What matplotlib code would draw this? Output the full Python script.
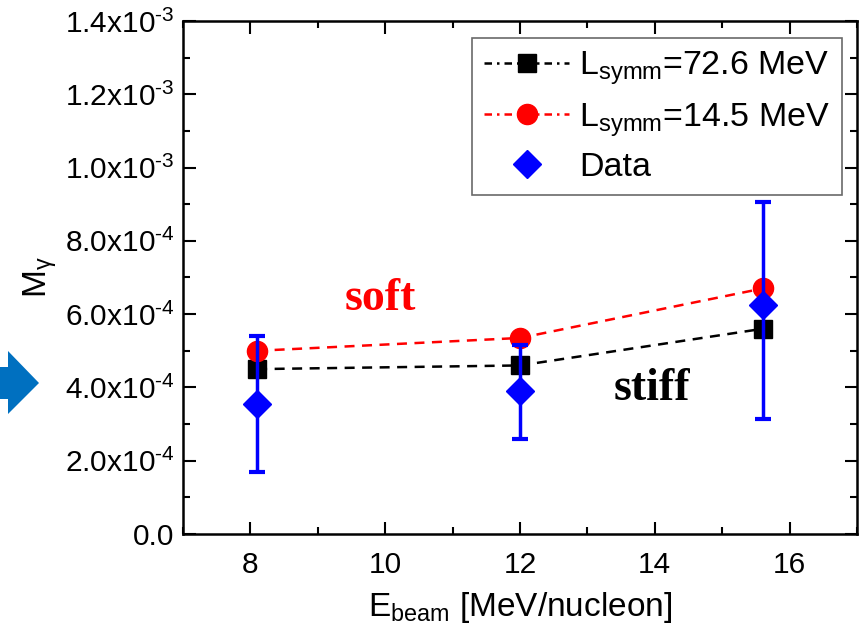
import matplotlib
matplotlib.use("Agg")
import matplotlib.pyplot as plt
from matplotlib.lines import Line2D
from matplotlib.patches import Polygon
from matplotlib.ticker import FixedLocator, FixedFormatter, MultipleLocator

plt.rcParams['font.family'] = ['Liberation Sans', 'DejaVu Sans']
plt.rcParams['mathtext.fontset'] = 'custom'
plt.rcParams['mathtext.rm'] = 'Liberation Sans'
plt.rcParams['mathtext.it'] = 'Liberation Sans:italic'

# data
e_beam = [8.1, 12.0, 15.6]
m_stiff = [4.5e-4, 4.6e-4, 5.6e-4]     # L_symm = 72.6 MeV
m_soft = [5.0e-4, 5.35e-4, 6.7e-4]     # L_symm = 14.5 MeV
m_data = [3.55e-4, 3.9e-4, 6.25e-4]
err_low = [1.85e-4, 1.3e-4, 3.1e-4]
err_high = [1.85e-4, 1.25e-4, 2.8e-4]

y_ticks = [0.0, 2e-4, 4e-4, 6e-4, 8e-4, 1.0e-3, 1.2e-3, 1.4e-3]
y_ticklabels = ['0.0', r'2.0x10$^{\text{-}4}$', r'4.0x10$^{\text{-}4}$',
                r'6.0x10$^{\text{-}4}$', r'8.0x10$^{\text{-}4}$',
                r'1.0x10$^{\text{-}3}$', r'1.2x10$^{\text{-}3}$',
                r'1.4x10$^{\text{-}3}$']
x_ticks = [8, 10, 12, 14, 16]

W, H = 861, 635
fig = plt.figure(figsize=(W / 100, H / 100), dpi=100)
ax = fig.add_axes([183 / W, (H - 534) / H, 674 / W, 513 / H])

ax.plot(e_beam, m_stiff, color='black', ls=(0, (4, 3)), lw=1.8, zorder=2)
ax.plot(e_beam, m_stiff, color='black', ls='none', marker='s', ms=13.5, zorder=3)
ax.plot(e_beam, m_soft, color='red', ls=(0, (4, 3)), lw=1.8, zorder=2)
ax.plot(e_beam, m_soft, color='red', ls='none', marker='o', ms=14.5, zorder=3)
ax.errorbar(e_beam, m_data, yerr=[err_low, err_high], fmt='D', color='blue',
            ms=14, elinewidth=2.5, capsize=6, capthick=3, zorder=4)

ax.set_xlim(7, 17)
ax.set_ylim(0, 1.4e-3)
ax.xaxis.set_major_locator(FixedLocator(x_ticks))
ax.xaxis.set_minor_locator(MultipleLocator(1))
ax.yaxis.set_major_locator(FixedLocator(y_ticks))
ax.yaxis.set_major_formatter(FixedFormatter(y_ticklabels))
ax.yaxis.set_minor_locator(MultipleLocator(1e-4))
ax.tick_params(which='both', direction='in', top=True, right=True,
               width=1.5, labelsize=21.5)
ax.tick_params(which='major', length=9)
ax.tick_params(which='minor', length=5)
ax.tick_params(axis='x', pad=12)
ax.tick_params(axis='y', pad=6)
for sp in ax.spines.values():
    sp.set_linewidth(1.8)

ax.set_xlabel(r'E$_{\mathrm{beam}}$ [MeV/nucleon]', fontsize=24, labelpad=8)
ax.set_ylabel(r'M$_{\mathrm{γ}}$', fontsize=24, labelpad=4)

ax.text(9.93, 6.42e-4, 'soft', color='red', fontsize=33, fontweight='bold',
        family='Liberation Serif', ha='center', va='center')
ax.text(13.96, 3.97e-4, 'stiff', color='black', fontsize=33, fontweight='bold',
        family='Liberation Serif', ha='center', va='center')

handles = [
    Line2D([], [], color='black', ls=(0, (3, 2, 1, 2)), lw=1.8, marker='s', ms=13.5),
    Line2D([], [], color='red', ls=(0, (3, 2, 1, 2)), lw=1.8, marker='o', ms=14.5),
    Line2D([], [], color='blue', ls='none', marker='D', ms=14),
]
labels = [r'L$_{\mathrm{symm}}$=72.6 MeV', r'L$_{\mathrm{symm}}$=14.5 MeV', 'Data']
leg = ax.legend(handles, labels, loc='upper right',
                bbox_to_anchor=((842 - 183) / 674, (534 - 38) / 513),
                borderaxespad=0, fontsize=24.5, handlelength=2.5,
                handletextpad=0.3, labelspacing=0.4, borderpad=0.35,
                fancybox=False, frameon=True)
leg.get_frame().set_edgecolor('#444444')
leg.get_frame().set_linewidth(1.2)

# blue arrow on the left edge
arrow = [(0, 367), (8, 367), (8, 351), (39, 383), (8, 414), (8, 399), (0, 399)]
arrow = [(x / W, 1 - y / H) for x, y in arrow]
fig.patches.append(Polygon(arrow, closed=True, transform=fig.transFigure,
                           facecolor='#0070C0', edgecolor='none'))

fig.savefig('out.png', dpi=100)
